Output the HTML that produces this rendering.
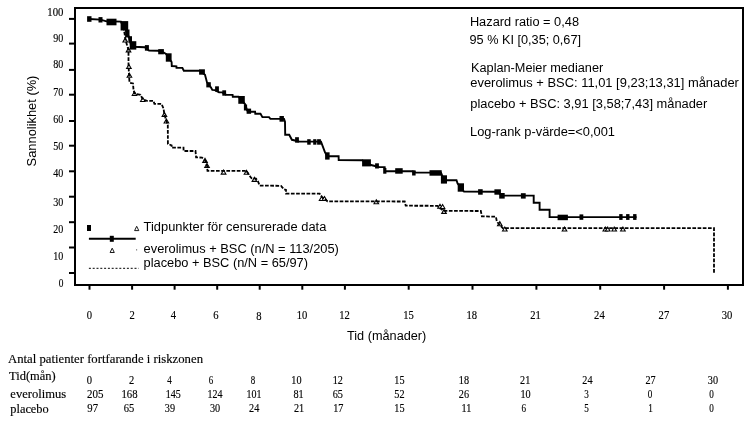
<!DOCTYPE html>
<html><head><meta charset="utf-8"><title>Kaplan-Meier</title>
<style>
html,body{margin:0;padding:0;background:#fff;}
body{width:754px;height:424px;overflow:hidden;}
svg{display:block;}
.sans{font-family:"Liberation Sans",Arial,sans-serif;font-size:12.85px;fill:#000;}
.serif{font-family:"Liberation Serif","Times New Roman",serif;fill:#000;stroke:#000;stroke-width:0.15px;}
.tnum{stroke-width:0.15px;}
</style></head><body>
<svg width="754" height="424" viewBox="0 0 754 424">
<rect x="0" y="0" width="754" height="424" fill="#fff"/>

<rect x="75" y="8" width="668" height="277" fill="none" stroke="#000" stroke-width="2"/>
<line x1="69" y1="18.9" x2="75" y2="18.9" stroke="#000" stroke-width="2"/>
<line x1="69" y1="43.6" x2="75" y2="43.6" stroke="#000" stroke-width="2"/>
<line x1="69" y1="69.9" x2="75" y2="69.9" stroke="#000" stroke-width="2"/>
<line x1="69" y1="94.7" x2="75" y2="94.7" stroke="#000" stroke-width="2"/>
<line x1="69" y1="121" x2="75" y2="121" stroke="#000" stroke-width="2"/>
<line x1="69" y1="145.7" x2="75" y2="145.7" stroke="#000" stroke-width="2"/>
<line x1="69" y1="171.3" x2="75" y2="171.3" stroke="#000" stroke-width="2"/>
<line x1="69" y1="196.7" x2="75" y2="196.7" stroke="#000" stroke-width="2"/>
<line x1="69" y1="222.2" x2="75" y2="222.2" stroke="#000" stroke-width="2"/>
<line x1="69" y1="247.5" x2="75" y2="247.5" stroke="#000" stroke-width="2"/>
<line x1="69" y1="273" x2="75" y2="273" stroke="#000" stroke-width="2"/>
<line x1="89.5" y1="285" x2="89.5" y2="289.7" stroke="#000" stroke-width="2"/>
<line x1="132.1" y1="285" x2="132.1" y2="289.7" stroke="#000" stroke-width="2"/>
<line x1="174.6" y1="285" x2="174.6" y2="289.7" stroke="#000" stroke-width="2"/>
<line x1="217.2" y1="285" x2="217.2" y2="289.7" stroke="#000" stroke-width="2"/>
<line x1="259.7" y1="285" x2="259.7" y2="289.7" stroke="#000" stroke-width="2"/>
<line x1="302.3" y1="285" x2="302.3" y2="289.7" stroke="#000" stroke-width="2"/>
<line x1="344.9" y1="285" x2="344.9" y2="289.7" stroke="#000" stroke-width="2"/>
<line x1="408.7" y1="285" x2="408.7" y2="289.7" stroke="#000" stroke-width="2"/>
<line x1="472.5" y1="285" x2="472.5" y2="289.7" stroke="#000" stroke-width="2"/>
<line x1="536.4" y1="285" x2="536.4" y2="289.7" stroke="#000" stroke-width="2"/>
<line x1="600.2" y1="285" x2="600.2" y2="289.7" stroke="#000" stroke-width="2"/>
<line x1="664.1" y1="285" x2="664.1" y2="289.7" stroke="#000" stroke-width="2"/>
<line x1="727.9" y1="285" x2="727.9" y2="289.7" stroke="#000" stroke-width="2"/>
<text class="serif num" font-size="11.7" transform="translate(63.4,15.8) scale(0.92,1)" text-anchor="end">100</text>
<text class="serif num" font-size="11.7" transform="translate(63.4,42.1) scale(0.86,1)" text-anchor="end">90</text>
<text class="serif num" font-size="11.7" transform="translate(63.4,68.0) scale(0.86,1)" text-anchor="end">80</text>
<text class="serif num" font-size="11.7" transform="translate(63.4,96.1) scale(0.86,1)" text-anchor="end">70</text>
<text class="serif num" font-size="11.7" transform="translate(63.4,122.9) scale(0.86,1)" text-anchor="end">60</text>
<text class="serif num" font-size="11.7" transform="translate(63.4,149.8) scale(0.86,1)" text-anchor="end">50</text>
<text class="serif num" font-size="11.7" transform="translate(63.4,177.0) scale(0.86,1)" text-anchor="end">40</text>
<text class="serif num" font-size="11.7" transform="translate(63.4,206.0) scale(0.86,1)" text-anchor="end">30</text>
<text class="serif num" font-size="11.7" transform="translate(63.4,232.9) scale(0.86,1)" text-anchor="end">20</text>
<text class="serif num" font-size="11.7" transform="translate(63.4,260.0) scale(0.86,1)" text-anchor="end">10</text>
<text class="serif num" font-size="11.7" transform="translate(63.4,286.8) scale(0.8,1)" text-anchor="end">0</text>
<text class="serif num" font-size="11.8" transform="translate(89.4,319.2) scale(0.9,1)" text-anchor="middle">0</text>
<text class="serif num" font-size="11.8" transform="translate(132.1,319.2) scale(0.9,1)" text-anchor="middle">2</text>
<text class="serif num" font-size="11.8" transform="translate(173.3,319.2) scale(0.9,1)" text-anchor="middle">4</text>
<text class="serif num" font-size="11.8" transform="translate(215.8,319.2) scale(0.9,1)" text-anchor="middle">6</text>
<text class="serif num" font-size="11.8" transform="translate(258.8,320.0) scale(0.9,1)" text-anchor="middle">8</text>
<text class="serif num" font-size="11.8" transform="translate(302,319.2) scale(0.9,1)" text-anchor="middle">10</text>
<text class="serif num" font-size="11.8" transform="translate(344.6,319.2) scale(0.9,1)" text-anchor="middle">12</text>
<text class="serif num" font-size="11.8" transform="translate(408.6,319.2) scale(0.9,1)" text-anchor="middle">15</text>
<text class="serif num" font-size="11.8" transform="translate(471.8,319.2) scale(0.9,1)" text-anchor="middle">18</text>
<text class="serif num" font-size="11.8" transform="translate(535.5,319.2) scale(0.9,1)" text-anchor="middle">21</text>
<text class="serif num" font-size="11.8" transform="translate(599.4,319.2) scale(0.9,1)" text-anchor="middle">24</text>
<text class="serif num" font-size="11.8" transform="translate(663.9,319.2) scale(0.9,1)" text-anchor="middle">27</text>
<text class="serif num" font-size="11.8" transform="translate(727.1,319.2) scale(0.9,1)" text-anchor="middle">30</text>
<text class="sans" transform="translate(36.3,166.4) rotate(-90)" textLength="90.8" lengthAdjust="spacingAndGlyphs">Sannolikhet (%)</text>
<text class="sans" x="347" y="340" textLength="79.3" lengthAdjust="spacingAndGlyphs">Tid (månader)</text>
<text class="sans" x="469.9" y="25.5" textLength="109.1" lengthAdjust="spacingAndGlyphs">Hazard ratio = 0,48</text>
<text class="sans" x="469.5" y="44.2" textLength="111.5" lengthAdjust="spacingAndGlyphs">95 % KI [0,35; 0,67]</text>
<text class="sans" x="471" y="71.5" textLength="132.2" lengthAdjust="spacingAndGlyphs">Kaplan-Meier medianer</text>
<text class="sans" x="470.3" y="87.3" textLength="268.6" lengthAdjust="spacingAndGlyphs">everolimus + BSC: 11,01 [9,23;13,31] månader</text>
<text class="sans" x="470.3" y="107.7" textLength="237" lengthAdjust="spacingAndGlyphs">placebo + BSC: 3,91 [3,58;7,43] månader</text>
<text class="sans" x="470" y="135.6" textLength="145" lengthAdjust="spacingAndGlyphs">Log-rank p-värde=&lt;0,001</text>
<text class="sans" x="143.6" y="230.7" textLength="182.7" lengthAdjust="spacingAndGlyphs">Tidpunkter för censurerade data</text>
<text class="sans" x="143.6" y="252.8" textLength="195.3" lengthAdjust="spacingAndGlyphs">everolimus + BSC (n/N = 113/205)</text>
<text class="sans" x="143.6" y="266.7" textLength="164.4" lengthAdjust="spacingAndGlyphs">placebo + BSC (n/N = 65/97)</text>
<polyline points="89,19 100.5,19.6 106.5,21.3 121,21.6 123.5,25.5 127,32 129.5,39 131,45 133,46.8 144.7,47.2 149,50.6 158,50.8 163.8,52.5 166,54 171.6,62 171.8,66 176.4,66.3 176.5,67.8 182.4,67.9 183.8,70.7 199.7,70.8 205,74.7 207,82.4 211,87.5 212.3,89.9 215,90.1 219,92.2 222.2,92.4 226.2,94.8 232.6,94.9 232.8,96.8 238.6,96.8 245,104 247.2,110.5 251.2,111.8 255.1,111.8 255.3,113.8 260.5,113.8 262.4,117.1 269,117.1 270.4,118.9 284,118.9 285,121.7 285.2,134.7 289.2,134.8 291.9,139.8 295,140.5 299,141.5 321,141.6 325,152.4 327.4,156.2 338.6,156.2 338.7,160.1 362,160.2 371,165 379,167 384.7,167.1 385,171.2 412,171.3 415.7,172.5 441,172.6 444,180.2 456.5,180.3 457.6,183.5 464,191.6 497.6,191.7 502,195.6 533.7,195.6 533.7,202.8 539.6,202.8 539.6,209.7 549.6,209.7 549.6,217.1 636.5,217.1" fill="none" stroke="#000" stroke-width="1.9" stroke-linejoin="miter"/>
<rect x="87.1" y="16.2" width="4.4" height="5.6" fill="#000"/>
<rect x="98.5" y="17.1" width="4" height="5.4" fill="#000"/>
<rect x="106.5" y="18.7" width="10" height="6.6" fill="#000"/>
<rect x="120.6" y="21.1" width="7.6" height="9.4" fill="#000"/>
<rect x="125.1" y="29.5" width="4.4" height="8" fill="#000"/>
<rect x="128.4" y="36.2" width="3.6" height="6.5" fill="#000"/>
<rect x="129.7" y="41.2" width="6.6" height="8.4" fill="#000"/>
<rect x="144.9" y="45.1" width="4" height="5.6" fill="#000"/>
<rect x="158.2" y="49.1" width="5.7" height="5.2" fill="#000"/>
<rect x="165.8" y="53.3" width="5.8" height="8.4" fill="#000"/>
<rect x="199.1" y="69.3" width="5.8" height="5.4" fill="#000"/>
<rect x="206.3" y="82.2" width="4.5" height="5.2" fill="#000"/>
<rect x="215.1" y="86.3" width="3.8" height="5.3" fill="#000"/>
<rect x="222.3" y="90.3" width="3.8" height="5.4" fill="#000"/>
<rect x="238.3" y="96.0" width="6.5" height="7.8" fill="#000"/>
<rect x="243.9" y="104.5" width="3.2" height="6" fill="#000"/>
<rect x="246.6" y="108.6" width="4.5" height="5.2" fill="#000"/>
<rect x="279.5" y="116.0" width="4.4" height="5.7" fill="#000"/>
<rect x="295.1" y="137.2" width="3.8" height="5.5" fill="#000"/>
<rect x="307.2" y="139.2" width="3.5" height="5.5" fill="#000"/>
<rect x="313.2" y="139.2" width="3.2" height="5.5" fill="#000"/>
<rect x="317.1" y="139.2" width="3.8" height="5.5" fill="#000"/>
<rect x="325.1" y="152.3" width="4.5" height="7.3" fill="#000"/>
<rect x="362.1" y="159.3" width="8.8" height="7.1" fill="#000"/>
<rect x="375.1" y="163.3" width="3.8" height="5.2" fill="#000"/>
<rect x="383.2" y="168.0" width="3.2" height="5.7" fill="#000"/>
<rect x="395.2" y="168.2" width="7.5" height="5.5" fill="#000"/>
<rect x="412.1" y="170.3" width="3.5" height="5.2" fill="#000"/>
<rect x="429.5" y="170.2" width="12.2" height="5.5" fill="#000"/>
<rect x="440.9" y="175.3" width="6.1" height="8.3" fill="#000"/>
<rect x="457.7" y="183.3" width="6.3" height="8.4" fill="#000"/>
<rect x="478.1" y="189.2" width="4.6" height="5.5" fill="#000"/>
<rect x="494.4" y="189.3" width="6.5" height="5.4" fill="#000"/>
<rect x="499.2" y="193.0" width="5.5" height="5.6" fill="#000"/>
<rect x="520.9" y="193.2" width="4.8" height="5.4" fill="#000"/>
<rect x="557.6" y="214.7" width="10.3" height="5.5" fill="#000"/>
<rect x="579.5" y="214.4" width="3.8" height="5.4" fill="#000"/>
<rect x="619.2" y="214.1" width="3.4" height="5.8" fill="#000"/>
<rect x="626.1" y="214.1" width="3.4" height="5.8" fill="#000"/>
<rect x="633.1" y="214.1" width="3.4" height="5.8" fill="#000"/>
<path d="M122.9,42.0 L125.2,38.0 L127.5,42.0 Z" fill="#fff" stroke="#000" stroke-width="1.1" stroke-linejoin="miter"/>
<path d="M126.2,51.9 L128.5,47.9 L130.8,51.9 Z" fill="#fff" stroke="#000" stroke-width="1.1" stroke-linejoin="miter"/>
<path d="M126.6,68.5 L128.9,64.5 L131.2,68.5 Z" fill="#fff" stroke="#000" stroke-width="1.1" stroke-linejoin="miter"/>
<path d="M127.1,77.3 L129.4,73.3 L131.7,77.3 Z" fill="#fff" stroke="#000" stroke-width="1.1" stroke-linejoin="miter"/>
<path d="M132.2,95.5 L134.5,91.5 L136.8,95.5 Z" fill="#fff" stroke="#000" stroke-width="1.1" stroke-linejoin="miter"/>
<path d="M140.5,101.5 L142.8,97.5 L145.1,101.5 Z" fill="#fff" stroke="#000" stroke-width="1.1" stroke-linejoin="miter"/>
<path d="M162.1,116.4 L164.4,112.4 L166.7,116.4 Z" fill="#fff" stroke="#000" stroke-width="1.1" stroke-linejoin="miter"/>
<path d="M164.1,123.0 L166.4,119.0 L168.7,123.0 Z" fill="#fff" stroke="#000" stroke-width="1.1" stroke-linejoin="miter"/>
<path d="M202.7,162.4 L205.0,158.4 L207.3,162.4 Z" fill="#fff" stroke="#000" stroke-width="1.1" stroke-linejoin="miter"/>
<path d="M204.7,167.5 L207.0,163.5 L209.3,167.5 Z" fill="#fff" stroke="#000" stroke-width="1.1" stroke-linejoin="miter"/>
<path d="M221.3,174.1 L223.6,170.1 L225.9,174.1 Z" fill="#fff" stroke="#000" stroke-width="1.1" stroke-linejoin="miter"/>
<path d="M244.2,174.3 L246.5,170.3 L248.8,174.3 Z" fill="#fff" stroke="#000" stroke-width="1.1" stroke-linejoin="miter"/>
<path d="M252.1,181.4 L254.4,177.4 L256.7,181.4 Z" fill="#fff" stroke="#000" stroke-width="1.1" stroke-linejoin="miter"/>
<path d="M319.3,200.5 L321.6,196.5 L323.9,200.5 Z" fill="#fff" stroke="#000" stroke-width="1.1" stroke-linejoin="miter"/>
<path d="M322.2,200.5 L324.5,196.5 L326.8,200.5 Z" fill="#fff" stroke="#000" stroke-width="1.1" stroke-linejoin="miter"/>
<path d="M374.0,203.8 L376.3,199.8 L378.6,203.8 Z" fill="#fff" stroke="#000" stroke-width="1.1" stroke-linejoin="miter"/>
<path d="M437.7,208.3 L440.0,204.3 L442.3,208.3 Z" fill="#fff" stroke="#000" stroke-width="1.1" stroke-linejoin="miter"/>
<path d="M440.3,208.6 L442.6,204.6 L444.9,208.6 Z" fill="#fff" stroke="#000" stroke-width="1.1" stroke-linejoin="miter"/>
<path d="M441.7,213.4 L444.0,209.4 L446.3,213.4 Z" fill="#fff" stroke="#000" stroke-width="1.1" stroke-linejoin="miter"/>
<path d="M497.5,225.7 L499.8,221.7 L502.1,225.7 Z" fill="#fff" stroke="#000" stroke-width="1.1" stroke-linejoin="miter"/>
<path d="M502.5,231.0 L504.8,227.0 L507.1,231.0 Z" fill="#fff" stroke="#000" stroke-width="1.1" stroke-linejoin="miter"/>
<path d="M562.2,231.0 L564.5,227.0 L566.8,231.0 Z" fill="#fff" stroke="#000" stroke-width="1.1" stroke-linejoin="miter"/>
<path d="M603.0,231.0 L605.3,227.0 L607.6,231.0 Z" fill="#fff" stroke="#000" stroke-width="1.1" stroke-linejoin="miter"/>
<path d="M605.4,231.0 L607.7,227.0 L610.0,231.0 Z" fill="#fff" stroke="#000" stroke-width="1.1" stroke-linejoin="miter"/>
<path d="M611.9,231.0 L614.2,227.0 L616.5,231.0 Z" fill="#fff" stroke="#000" stroke-width="1.1" stroke-linejoin="miter"/>
<path d="M620.6,231.0 L622.9,227.0 L625.2,231.0 Z" fill="#fff" stroke="#000" stroke-width="1.1" stroke-linejoin="miter"/>
<polyline points="121,22 123,26 124.5,33 125.5,40 127,45 128.5,50 128.5,64.5 129.2,78 129.5,82.6 133,83.5 133.5,90 134.5,93.5 140.5,94.8 142.8,99.5 147,100.8 153.5,100.8 154.4,103.8 161.5,103.8 163.5,108.5 164.4,114.4 166.4,121 167.8,125 167.9,143.9 171.6,145.3 171.6,147.6 183.5,147.6 183.6,151 195.5,151 196.1,157.4 202.1,157.6 205,160.2 207,165.5 207.5,170.8 246.5,170.9 249,175 251.5,178.2 256,178.6 258,181.5 259.7,185.6 281,185.8 284,189.3 286,190 286,193.6 319.6,193.6 322,197 327.5,201.3 404.7,201.5 405.7,205.7 437.5,205.8 443.5,210.9 480.8,211 481.9,216.3 495.9,216.7 496.9,221.7 502.8,228.2 714,228.2 714,273" fill="none" stroke="#000" stroke-width="1.8" stroke-dasharray="3.7 1.5"/>
<rect x="87" y="225" width="4" height="6" fill="#000"/>
<path d="M134.6,230.6 L136.7,226.3 L138.8,230.6 Z" fill="#fff" stroke="#000" stroke-width="0.9"/>
<line x1="88.9" y1="238.8" x2="135.7" y2="238.8" stroke="#000" stroke-width="1.9"/>
<rect x="109.8" y="235.8" width="4" height="6" fill="#000"/>
<path d="M110.1,252.5 L112.2,248.2 L114.3,252.5 Z" fill="#fff" stroke="#000" stroke-width="0.9"/>
<rect x="136.3" y="249" width="0.8" height="1.6" fill="#666"/>
<line x1="88.9" y1="268.3" x2="138.7" y2="268.3" stroke="#000" stroke-width="1" stroke-dasharray="2 1.8"/>
<text class="serif" font-size="12.7" x="8" y="362.6" textLength="195" lengthAdjust="spacingAndGlyphs">Antal patienter fortfarande i riskzonen</text>
<text class="serif" font-size="12.7" x="9" y="380" textLength="46.7" lengthAdjust="spacingAndGlyphs">Tid(mån)</text>
<text class="serif" font-size="12.7" x="10.3" y="397.8" textLength="55.9" lengthAdjust="spacingAndGlyphs">everolimus</text>
<text class="serif" font-size="12.7" x="10.3" y="413.3" textLength="38.4" lengthAdjust="spacingAndGlyphs">placebo</text>
<text class="serif tnum" font-size="12" transform="translate(89.5,383.9) scale(0.88,1)" text-anchor="middle">0</text>
<text class="serif tnum" font-size="12" transform="translate(131.7,383.9) scale(0.88,1)" text-anchor="middle">2</text>
<text class="serif tnum" font-size="12" transform="translate(169.4,383.9) scale(0.74,1)" text-anchor="middle">4</text>
<text class="serif tnum" font-size="12" transform="translate(211,383.9) scale(0.74,1)" text-anchor="middle">6</text>
<text class="serif tnum" font-size="12" transform="translate(253,383.9) scale(0.74,1)" text-anchor="middle">8</text>
<text class="serif tnum" font-size="12" transform="translate(296.4,383.9) scale(0.85,1)" text-anchor="middle">10</text>
<text class="serif tnum" font-size="12" transform="translate(337.8,383.9) scale(0.85,1)" text-anchor="middle">12</text>
<text class="serif tnum" font-size="12" transform="translate(399.4,383.9) scale(0.85,1)" text-anchor="middle">15</text>
<text class="serif tnum" font-size="12" transform="translate(463.9,383.9) scale(0.85,1)" text-anchor="middle">18</text>
<text class="serif tnum" font-size="12" transform="translate(525.2,383.9) scale(0.85,1)" text-anchor="middle">21</text>
<text class="serif tnum" font-size="12" transform="translate(587.4,383.9) scale(0.85,1)" text-anchor="middle">24</text>
<text class="serif tnum" font-size="12" transform="translate(650.6,383.9) scale(0.85,1)" text-anchor="middle">27</text>
<text class="serif tnum" font-size="12" transform="translate(712.9,383.9) scale(0.85,1)" text-anchor="middle">30</text>
<text class="serif tnum" font-size="12.2" transform="translate(95.2,398) scale(0.9,1)" text-anchor="middle">205</text>
<text class="serif tnum" font-size="12.2" transform="translate(129.5,398) scale(0.88,1)" text-anchor="middle">168</text>
<text class="serif tnum" font-size="12.2" transform="translate(173.3,398) scale(0.82,1)" text-anchor="middle">145</text>
<text class="serif tnum" font-size="12.2" transform="translate(215,398) scale(0.82,1)" text-anchor="middle">124</text>
<text class="serif tnum" font-size="12.2" transform="translate(254,398) scale(0.82,1)" text-anchor="middle">101</text>
<text class="serif tnum" font-size="12.2" transform="translate(298.5,398) scale(0.84,1)" text-anchor="middle">81</text>
<text class="serif tnum" font-size="12.2" transform="translate(337.8,398) scale(0.84,1)" text-anchor="middle">65</text>
<text class="serif tnum" font-size="12.2" transform="translate(399.4,398) scale(0.84,1)" text-anchor="middle">52</text>
<text class="serif tnum" font-size="12.2" transform="translate(463.9,398) scale(0.84,1)" text-anchor="middle">26</text>
<text class="serif tnum" font-size="12.2" transform="translate(525.5,398) scale(0.84,1)" text-anchor="middle">10</text>
<text class="serif tnum" font-size="12.2" transform="translate(586.5,398) scale(0.75,1)" text-anchor="middle">3</text>
<text class="serif tnum" font-size="12.2" transform="translate(650,398) scale(0.75,1)" text-anchor="middle">0</text>
<text class="serif tnum" font-size="12.2" transform="translate(711.6,398) scale(0.75,1)" text-anchor="middle">0</text>
<text class="serif tnum" font-size="12.2" transform="translate(92.7,411.9) scale(0.88,1)" text-anchor="middle">97</text>
<text class="serif tnum" font-size="12.2" transform="translate(129,411.9) scale(0.86,1)" text-anchor="middle">65</text>
<text class="serif tnum" font-size="12.2" transform="translate(169.9,411.9) scale(0.84,1)" text-anchor="middle">39</text>
<text class="serif tnum" font-size="12.2" transform="translate(215,411.9) scale(0.84,1)" text-anchor="middle">30</text>
<text class="serif tnum" font-size="12.2" transform="translate(254.2,411.9) scale(0.84,1)" text-anchor="middle">24</text>
<text class="serif tnum" font-size="12.2" transform="translate(299,411.9) scale(0.84,1)" text-anchor="middle">21</text>
<text class="serif tnum" font-size="12.2" transform="translate(338.3,411.9) scale(0.84,1)" text-anchor="middle">17</text>
<text class="serif tnum" font-size="12.2" transform="translate(399.4,411.9) scale(0.84,1)" text-anchor="middle">15</text>
<text class="serif tnum" font-size="12.2" transform="translate(466.4,411.9) scale(0.84,1)" text-anchor="middle">11</text>
<text class="serif tnum" font-size="12.2" transform="translate(523.9,411.9) scale(0.75,1)" text-anchor="middle">6</text>
<text class="serif tnum" font-size="12.2" transform="translate(586.5,411.9) scale(0.75,1)" text-anchor="middle">5</text>
<text class="serif tnum" font-size="12.2" transform="translate(650.6,411.9) scale(0.75,1)" text-anchor="middle">1</text>
<text class="serif tnum" font-size="12.2" transform="translate(711.6,411.9) scale(0.75,1)" text-anchor="middle">0</text>
</svg></body></html>
